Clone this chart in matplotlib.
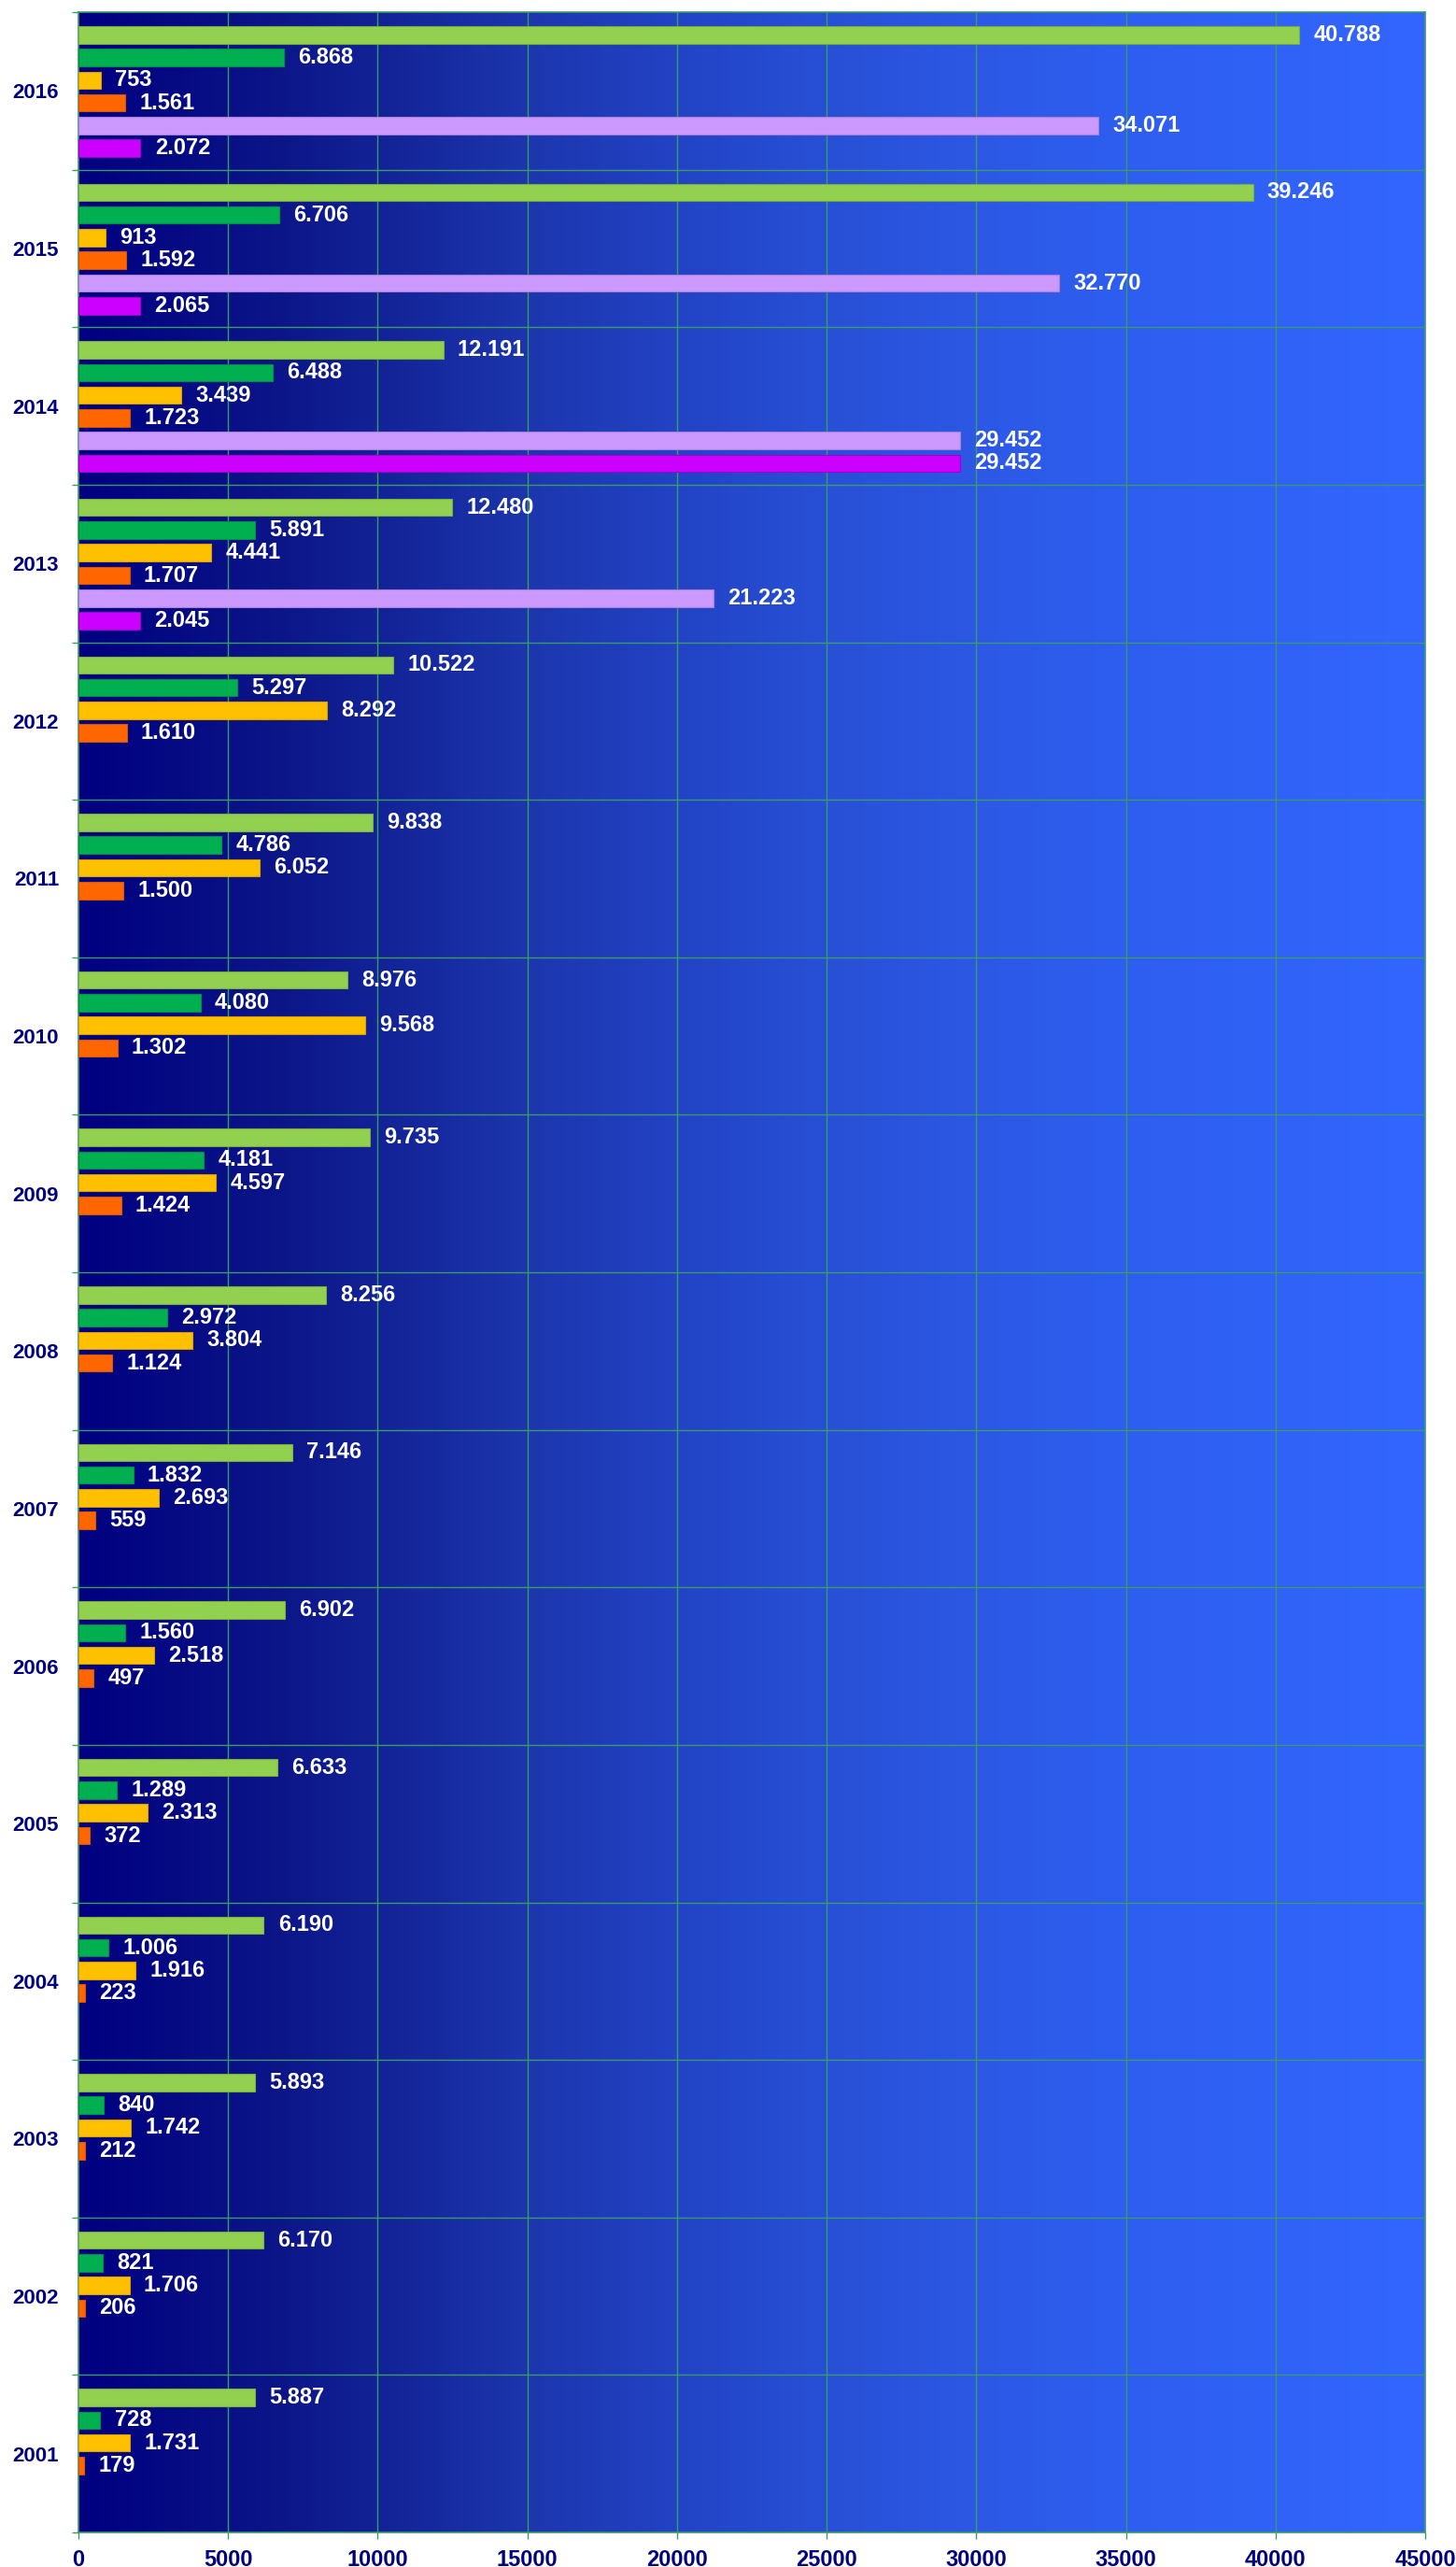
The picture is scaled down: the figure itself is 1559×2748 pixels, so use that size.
import numpy as np
import matplotlib
matplotlib.use('Agg')
import matplotlib.pyplot as plt
from matplotlib.colors import LinearSegmentedColormap

years = ['2016', '2015', '2014', '2013', '2012', '2011', '2010', '2009',
         '2008', '2007', '2006', '2005', '2004', '2003', '2002', '2001']

s1 = [40788, 39246, 12191, 12480, 10522, 9838, 8976, 9735, 8256, 7146, 6902, 6633, 6190, 5893, 6170, 5887]
s2 = [6868, 6706, 6488, 5891, 5297, 4786, 4080, 4181, 2972, 1832, 1560, 1289, 1006, 840, 821, 728]
s3 = [753, 913, 3439, 4441, 8292, 6052, 9568, 4597, 3804, 2693, 2518, 2313, 1916, 1742, 1706, 1731]
s4 = [1561, 1592, 1723, 1707, 1610, 1500, 1302, 1424, 1124, 559, 497, 372, 223, 212, 206, 179]
s5 = [34071, 32770, 29452, 21223]
s6 = [2072, 2065, 29452, 2045]

series = [s1, s2, s3, s4, s5, s6]
colors = ['#92D050', '#00B050', '#FFC000', '#FF6600', '#CC99FF', '#CC00FF']
edges = ['#7AAE3E', '#009040', '#D9A000', '#D95500', '#A77FD6', '#A000CC']

xticks = np.arange(0, 45001, 5000)

plt.rcParams['font.family'] = ['Liberation Sans', 'DejaVu Sans']

grid_col = '#3A9A6A'
navy = '#000080'

fig = plt.figure(figsize=(15.59, 27.48), dpi=100)
ax = fig.add_axes([84/1559, 1-2711/2748, (1526-84)/1559, (2711-13)/2748])

# gradient background, left navy to right blue
cmap = LinearSegmentedColormap.from_list('bg', [
    (0.0, '#000080'), (0.15, '#0C1688'), (0.333, '#1C36AD'), (0.444, '#2243C5'),
    (0.555, '#2850D6'), (0.667, '#2C58E5'), (0.774, '#2E5EEF'), (1.0, '#3366FF')])
grad = np.linspace(0, 1, 512).reshape(1, -1)
ax.imshow(grad, cmap=cmap, aspect='auto', extent=[0, 1, 0, 1],
          transform=ax.transAxes, zorder=0, interpolation='bicubic')

n = len(years)
step = 0.144
h = 0.11
for j, vals in enumerate(series):
    for i, v in enumerate(vals):
        yc = i + step*(j+1)
        ax.barh(yc, v, height=h, color=colors[j], edgecolor=edges[j], linewidth=0.8, zorder=3)
        lbl = f'{v:,}'.replace(',', '.')
        ax.annotate(lbl, (v, yc), xytext=(11, 0), textcoords='offset points',
                    ha='left', va='center', color='white', fontsize=17,
                    fontweight='bold', zorder=4)

ax.set_xlim(0, 45000)
ax.set_ylim(n, 0)

ax.set_xticks(xticks)
ax.set_xticklabels([str(t) for t in xticks], fontweight='bold', fontsize=17, color=navy)
ax.set_yticks(np.arange(0, n+1))
ax.set_yticklabels([])
ax.set_yticks(np.arange(n) + 0.5, minor=True)
ax.set_yticklabels(years, minor=True, fontweight='bold', fontsize=16, color=navy)

ax.tick_params(axis='x', which='major', length=5, width=1, color=grid_col, pad=8)
ax.tick_params(axis='y', which='major', length=5, width=1, color=grid_col, direction='out')
ax.tick_params(axis='y', which='minor', length=0, pad=15)

for k in range(1, n):
    ax.axhline(k, color=grid_col, linewidth=1, zorder=1)
for t in xticks[1:-1]:
    ax.axvline(t, color=grid_col, linewidth=1, zorder=1)

for sp in ax.spines.values():
    sp.set_color(grid_col)
    sp.set_linewidth(1.2)

fig.savefig('out.png', dpi=100, facecolor='white')
